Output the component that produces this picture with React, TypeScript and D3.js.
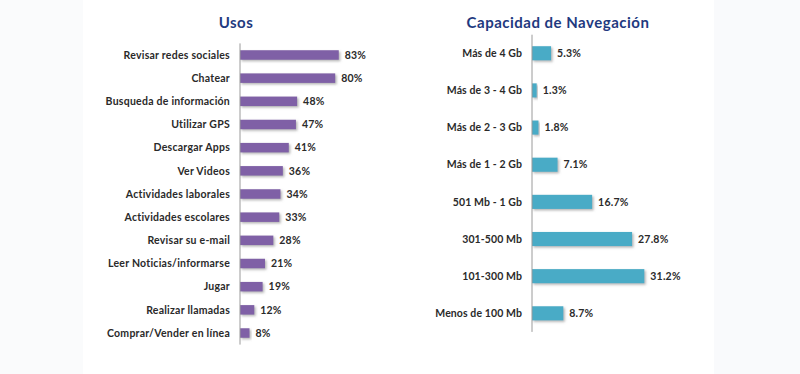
import * as d3 from 'd3';
import { useEffect, useRef } from 'react';

// Usos
const usosCategories = [
  'Revisar redes sociales',
  'Chatear',
  'Busqueda de información',
  'Utilizar GPS',
  'Descargar Apps',
  'Ver Videos',
  'Actividades laborales',
  'Actividades escolares',
  'Revisar su e-mail',
  'Leer Noticias/informarse',
  'Jugar',
  'Realizar llamadas',
  'Comprar/Vender en línea',
];
const usosValues = [83, 80, 48, 47, 41, 36, 34, 33, 28, 21, 19, 12, 8];

// Capacidad de Navegación
const capCategories = [
  'Más de 4 Gb',
  'Más de 3 - 4 Gb',
  'Más de 2 - 3 Gb',
  'Más de 1 - 2 Gb',
  '501 Mb - 1 Gb',
  '301-500 Mb',
  '101-300 Mb',
  'Menos de 100 Mb',
];
const capValues = [5.3, 1.3, 1.8, 7.1, 16.7, 27.8, 31.2, 8.7];

const width = 800;
const height = 374;
const font = 'Lato, "Open Sans", sans-serif';

export default function App() {
  const ref = useRef<SVGSVGElement | null>(null);

  useEffect(() => {
    drawChart();
  }, []);

  function drawPanel(
    svg: d3.Selection<SVGSVGElement, unknown, null, undefined>,
    opts: {
      title: string;
      titleX: number;
      cats: string[];
      vals: number[];
      axisX: number;
      pxPerUnit: number;
      yRange: [number, number];
      padInner: number;
      color: string;
      labelSpacing: number;
      fmt: (v: number) => string;
    }
  ) {
    const g = svg.append('g');
    const x = d3.scaleLinear()
      .domain([0, 100])
      .range([opts.axisX, opts.axisX + opts.pxPerUnit * 100]);
    const y = d3.scaleBand<string>()
      .domain(opts.cats)
      .range(opts.yRange)
      .paddingInner(opts.padInner)
      .paddingOuter(opts.padInner / 2);

    const data = opts.cats.map((c, i) => ({ name: c, value: opts.vals[i] }));

    // title
    g.append('text')
      .attr('x', opts.titleX)
      .attr('y', 28)
      .attr('text-anchor', 'middle')
      .attr('font-family', font)
      .attr('font-weight', 'bold')
      .attr('font-size', 15)
      .attr('letter-spacing', 0.5)
      .attr('fill', '#1f3a80')
      .text(opts.title);

    // bars with shadow
    g.selectAll('rect.bar')
      .data(data)
      .enter()
      .append('rect')
      .attr('class', 'bar')
      .attr('x', x(0))
      .attr('y', d => y(d.name)!)
      .attr('width', d => x(d.value) - x(0))
      .attr('height', y.bandwidth())
      .attr('fill', opts.color)
      .attr('filter', 'url(#shadow)');

    // axis line
    g.append('line')
      .attr('x1', opts.axisX)
      .attr('x2', opts.axisX)
      .attr('y1', opts.yRange[0])
      .attr('y2', opts.yRange[1])
      .attr('stroke', '#9a9a9a')
      .attr('stroke-width', 1);

    // category labels
    g.selectAll('text.cat')
      .data(data)
      .enter()
      .append('text')
      .attr('class', 'cat')
      .attr('x', opts.axisX - 10)
      .attr('y', d => y(d.name)! + y.bandwidth() / 2)
      .attr('dy', '0.35em')
      .attr('text-anchor', 'end')
      .attr('font-family', font)
      .attr('font-weight', 'bold')
      .attr('font-size', 10.5)
      .attr('letter-spacing', opts.labelSpacing)
      .attr('fill', '#2a2a2a')
      .text(d => d.name);

    // value labels
    g.selectAll('text.val')
      .data(data)
      .enter()
      .append('text')
      .attr('class', 'val')
      .attr('x', d => x(d.value) + 6)
      .attr('y', d => y(d.name)! + y.bandwidth() / 2)
      .attr('dy', '0.35em')
      .attr('font-family', font)
      .attr('font-weight', 'bold')
      .attr('font-size', 10.5)
      .attr('letter-spacing', 0.2)
      .attr('fill', '#2a2a2a')
      .text(d => opts.fmt(d.value));
  }

  function drawChart() {
    const svg = d3.select(ref.current!);
    svg.selectAll('*').remove();

    const defs = svg.append('defs');
    defs.append('filter')
      .attr('id', 'shadow')
      .attr('x', '-10%')
      .attr('y', '-30%')
      .attr('width', '130%')
      .attr('height', '180%')
      .append('feDropShadow')
      .attr('dx', 1.5)
      .attr('dy', 1.5)
      .attr('stdDeviation', 0.8)
      .attr('flood-color', '#777')
      .attr('flood-opacity', 0.55);

    // faint side backgrounds
    svg.append('rect').attr('x', 0).attr('y', 0).attr('width', width).attr('height', height).attr('fill', '#fff');
    svg.append('rect').attr('x', 0).attr('y', 0).attr('width', 83).attr('height', height).attr('fill', '#fafbfc');
    svg.append('rect').attr('x', 714).attr('y', 0).attr('width', 86).attr('height', height).attr('fill', '#f9fafc');

    drawPanel(svg, {
      title: 'Usos',
      titleX: 236,
      cats: usosCategories,
      vals: usosValues,
      axisX: 240,
      pxPerUnit: 1.19,
      yRange: [43.4, 344.6],
      padInner: 0.59,
      color: '#7f60a6',
      labelSpacing: 0.25,
      fmt: v => `${v}%`,
    });

    drawPanel(svg, {
      title: 'Capacidad de Navegación',
      titleX: 558,
      cats: capCategories,
      vals: capValues,
      axisX: 532,
      pxPerUnit: 3.6,
      yRange: [34.7, 331.9],
      padInner: 0.62,
      color: '#4aabc6',
      labelSpacing: 0.1,
      fmt: v => `${v.toFixed(1)}%`,
    });
  }

  return (
    <svg
      ref={ref}
      width={width}
      height={height}
      style={{ position: 'absolute', left: 0, top: 0, display: 'block' }}
    />
  );
}
